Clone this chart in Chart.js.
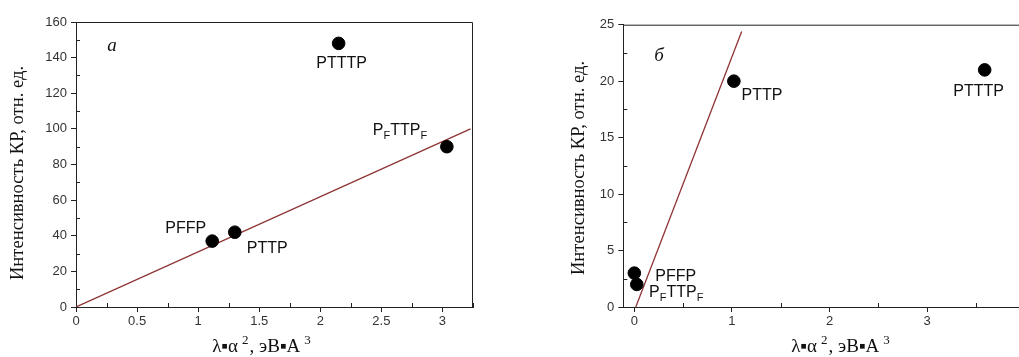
<!DOCTYPE html>
<html>
<head>
<meta charset="utf-8">
<script src="https://cdn.jsdelivr.net/npm/chart.js@4"></script>
<style>
  html, body { margin: 0; padding: 0; background: #fff; overflow: hidden; width: 1019px; height: 357px; }
  .box { position: absolute; top: 0; height: 357px; }
</style>
</head>
<body>
<div class="box" style="left:0;width:500px"><canvas id="chartA" width="500" height="357"></canvas></div>
<div class="box" style="left:519px;width:530px"><canvas id="chartB" width="530" height="357"></canvas></div>
<script>
// panel a
var namesA = ['PFFP', 'PTTP', 'PTTTP', 'P_FTTP_F'];
var xA = [1.115, 1.30, 2.15, 3.036];
var yA = [37, 42, 148, 90];
var fitXA = [0, 3.23];
var fitYA = [0, 100];
var xTicksA = [0, 0.5, 1, 1.5, 2, 2.5, 3];
var yTicksA = [0, 20, 40, 60, 80, 100, 120, 140, 160];

// panel b
var namesB = ['PFFP', 'P_FTTP_F', 'PTTP', 'PTTTP'];
var xB = [0, 0.025, 1.02, 3.59];
var yB = [3, 2, 20, 21];
var fitXB = [0.015, 1.10];
var fitYB = [0, 24.4];
var xTicksB = [0, 1, 2, 3];
var yTicksB = [0, 5, 10, 15, 20, 25];

var yTitle = 'Интенсивность КР, отн. ед.';
var axisColor = '#222';
var tickFont = { family: 'Liberation Sans, Arial', size: 13 };

function drawRich(ctx, str, x, y, align) {
  var parts = [];
  for (var i = 0; i < str.length; i++) {
    if (str[i] === '_') { parts.push({ t: str[i + 1], sub: true }); i++; }
    else parts.push({ t: str[i], sub: false });
  }
  var w = 0;
  parts.forEach(function (p) {
    ctx.font = (p.sub ? '11px' : '16px') + ' "Liberation Sans", Arial';
    p.w = ctx.measureText(p.t).width; w += p.w;
  });
  var cx = align === 'right' ? x - w : align === 'center' ? x - w / 2 : x;
  ctx.textAlign = 'left';
  ctx.textBaseline = 'alphabetic';
  parts.forEach(function (p) {
    ctx.font = (p.sub ? '11px' : '16px') + ' "Liberation Sans", Arial';
    ctx.fillText(p.t, cx, y + (p.sub ? 4 : 0));
    cx += p.w;
  });
}

function drawXTitle(ctx, cx, y) {
  var parts = [['λ▪α', 0], ['2', 1], [', эВ▪А', 0], ['3', 1]];
  var w = 0;
  parts.forEach(function (p) {
    ctx.font = (p[1] ? '13px' : '19px') + ' "Liberation Serif", "Times New Roman", serif';
    p.w = ctx.measureText(p[0]).width + (p[1] ? 5 : 0); w += p.w;
  });
  var x = cx - w / 2;
  ctx.textAlign = 'left';
  ctx.textBaseline = 'alphabetic';
  parts.forEach(function (p) {
    ctx.font = (p[1] ? '13px' : '19px') + ' "Liberation Serif", "Times New Roman", serif';
    ctx.fillText(p[0], x + (p[1] ? 4 : 0), y - (p[1] ? 8 : 0));
    x += p.w;
  });
}

var decor = {
  id: 'decor',
  afterDatasetsDraw: function (chart, args, o) {
    var ctx = chart.ctx, a = chart.chartArea, xs = chart.scales.x, ys = chart.scales.y;
    ctx.save();
    ctx.strokeStyle = axisColor;
    ctx.lineWidth = 1;
    ctx.beginPath();
    ctx.moveTo(a.left, a.top + 0.5);
    ctx.lineTo(a.right - 0.5, a.top + 0.5);
    ctx.lineTo(a.right - 0.5, a.bottom);
    ctx.stroke();
    // minor ticks, pointing inward
    ctx.beginPath();
    for (var i = 0; i < o.xt.length - 1; i++) {
      var px = Math.round(xs.getPixelForValue((o.xt[i] + o.xt[i + 1]) / 2)) + 0.5;
      ctx.moveTo(px, a.bottom); ctx.lineTo(px, a.bottom - 4);
    }
    if (o.xtail) {
      var last = o.xt[o.xt.length - 1], st = o.xt[1] - o.xt[0];
      var q = Math.round(xs.getPixelForValue(last + st / 2)) + 0.5;
      ctx.moveTo(q, a.bottom); ctx.lineTo(q, a.bottom - 4);
    }
    for (var j = 0; j < o.yt.length - 1; j++) {
      var py = Math.round(ys.getPixelForValue((o.yt[j] + o.yt[j + 1]) / 2)) + 0.5;
      ctx.moveTo(a.left, py); ctx.lineTo(a.left + 4, py);
    }
    ctx.stroke();
    // point labels
    ctx.fillStyle = '#111';
    o.names.forEach(function (n, k) {
      var d = chart.data.datasets[0].data[k];
      var off = o.offs[k];
      drawRich(ctx, n, xs.getPixelForValue(d.x) + off[0], ys.getPixelForValue(d.y) + off[1], off[2]);
    });
    // panel letter
    ctx.font = 'italic 19px "Liberation Serif", serif';
    ctx.textAlign = 'center';
    ctx.textBaseline = 'middle';
    ctx.fillText(o.letter[0], o.letter[1], o.letter[2]);
    // axis titles
    drawXTitle(ctx, o.xtitle[0], o.xtitle[1]);
    ctx.save();
    ctx.translate(o.ytitle[0], o.ytitle[1]);
    ctx.rotate(-Math.PI / 2);
    ctx.font = '18.6px "Liberation Serif", "Times New Roman", serif';
    ctx.textAlign = 'center';
    ctx.textBaseline = 'middle';
    ctx.fillText(yTitle, 0, 0);
    ctx.restore();
    ctx.restore();
  }
};

function makeChart(id, xs, ys, fx, fy, xt, yt, xmin, xmax, ymax, axW, pad, extra) {
  var pts = xs.map(function (v, i) { return { x: v, y: ys[i] }; });
  var fit = fx.map(function (v, i) { return { x: v, y: fy[i] }; });
  return new Chart(document.getElementById(id), {
    type: 'scatter',
    data: {
      datasets: [{
        data: pts,
        backgroundColor: '#000',
        borderColor: '#000',
        pointRadius: 6.3,
        pointHoverRadius: 6.3
      }, {
        type: 'line',
        data: fit,
        borderColor: '#8e3434',
        borderWidth: 1.3,
        pointRadius: 0,
        fill: false
      }]
    },
    options: {
      responsive: false,
      animation: false,
      events: [],
      layout: { padding: pad },
      plugins: { legend: { display: false }, tooltip: { enabled: false }, decor: extra },
      scales: {
        x: {
          type: 'linear', min: xmin, max: xmax,
          afterBuildTicks: function (s) { s.ticks = xt.map(function (v) { return { value: v }; }); },
          afterFit: function (s) { s.height = 50; },
          ticks: { color: '#333', font: tickFont, padding: 2, maxRotation: 0,
            callback: function (v) { return String(v); } },
          grid: { drawOnChartArea: false, drawTicks: true, tickLength: 5, color: axisColor },
          border: { display: true, color: axisColor }
        },
        y: {
          type: 'linear', min: 0, max: ymax,
          afterBuildTicks: function (s) { s.ticks = yt.map(function (v) { return { value: v }; }); },
          afterFit: function (s) { s.width = axW; },
          ticks: { color: '#333', font: tickFont, padding: 4,
            callback: function (v) { return String(v); } },
          grid: { drawOnChartArea: false, drawTicks: true, tickLength: 5, color: axisColor },
          border: { display: true, color: axisColor }
        }
      }
    },
    plugins: [decor]
  });
}

makeChart('chartA', xA, yA, fitXA, fitYA, xTicksA, yTicksA, 0, 3.25, 160, 76,
  { left: 0, top: 22, right: 27, bottom: 0 },
  {
    names: namesA, xt: xTicksA, yt: yTicksA, xtail: true,
    offs: [[-6, -8, 'right'], [12, 20.5, 'left'], [3, 25, 'center'], [-74, -12, 'left']],
    letter: ['а', 112, 46], xtitle: [262, 352], ytitle: [18, 173]
  });

makeChart('chartB', xB, yB, fitXB, fitYB, xTicksB, yTicksB, -0.113, 4.0, 25, 104.3,
  { left: 0, top: 24.7, right: 24.3, bottom: 0 },
  {
    names: namesB, xt: xTicksB, yt: yTicksB, xtail: true,
    offs: [[21, 7.4, 'left'], [12.3, 12.3, 'left'], [7.7, 19.3, 'left'], [-6, 26, 'center']],
    letter: ['б', 140, 56], xtitle: [322, 352], ytitle: [60, 168]
  });
</script>
</body>
</html>
